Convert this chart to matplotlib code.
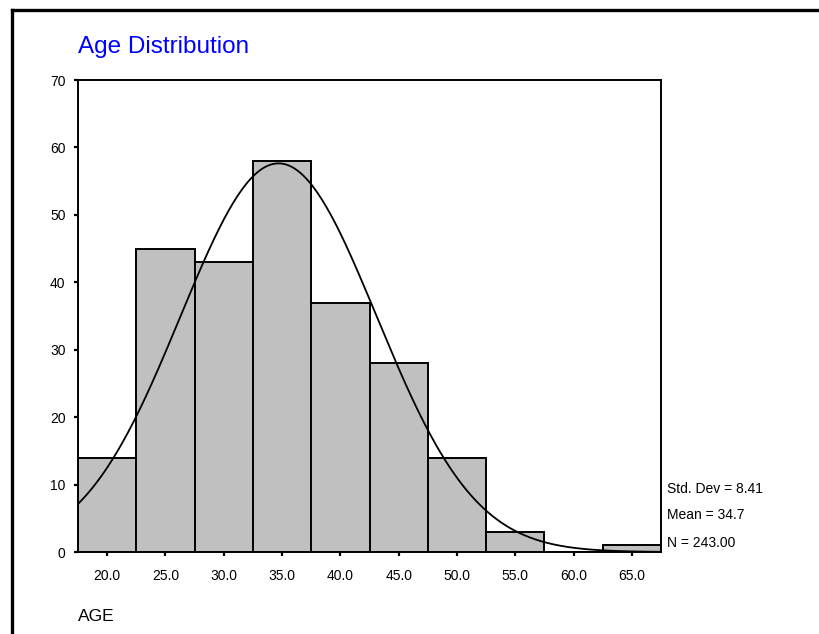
import numpy as np
import matplotlib
matplotlib.use("Agg")
import matplotlib.pyplot as plt
from matplotlib.lines import Line2D

# histogram data (bin centres and counts)
bin_centers = [20, 25, 30, 35, 40, 45, 50, 55, 60, 65]
counts = [14, 45, 43, 58, 37, 28, 14, 3, 0, 1]
bin_width = 5.0

# summary stats shown on the chart
std_dev = 8.41
mean = 34.7
n_total = 243.00

x_ticks = [20, 25, 30, 35, 40, 45, 50, 55, 60, 65]
y_ticks = [0, 10, 20, 30, 40, 50, 60, 70]

plt.rcParams['font.family'] = ['Liberation Sans', 'DejaVu Sans']

W, H = 819, 634
fig = plt.figure(figsize=(W / 100, H / 100), dpi=100)

def fx(px):
    return px / W

def fy(py):
    return 1 - py / H

ax = fig.add_axes([fx(78), fy(552), fx(661) - fx(78), fy(80) - fy(552)])

ax.bar(bin_centers, counts, width=bin_width, color='#c0c0c0',
       edgecolor='black', linewidth=1.4, zorder=2)

# fitted normal curve
xs = np.linspace(17.5, 67.5, 400)
ys = n_total * bin_width / (std_dev * np.sqrt(2 * np.pi)) * np.exp(-0.5 * ((xs - mean) / std_dev) ** 2)
ax.plot(xs, ys, color='black', linewidth=1.3, zorder=3)

ax.set_xlim(17.5, 67.5)
ax.set_ylim(0, 70)
ax.set_xticks(x_ticks)
ax.set_xticklabels([f"{v:.1f}" for v in x_ticks])
ax.set_yticks(y_ticks)
ax.tick_params(axis='both', direction='out', length=3, width=1.6,
               labelsize=10, colors='black')
ax.tick_params(axis='y', pad=6)
ax.tick_params(axis='x', pad=9)
for sp in ax.spines.values():
    sp.set_linewidth(1.4)

fig.text(fx(78), fy(53), 'Age Distribution', color='#0000ff', fontsize=17.5,
         ha='left', va='baseline')
fig.text(fx(78), fy(621), 'AGE', fontsize=12.5, ha='left', va='baseline')

fig.text(fx(667), fy(493), f'Std. Dev = {std_dev:.2f}', fontsize=10, va='baseline')
fig.text(fx(667), fy(519), f'Mean = {mean:.1f}', fontsize=10, va='baseline')
fig.text(fx(667), fy(547), f'N = {n_total:.2f}', fontsize=10, va='baseline')

# outer frame (left and top)
fig.add_artist(Line2D([fx(11.5), fx(11.5)], [0, fy(9.5)], color='black', linewidth=2.4,
                      transform=fig.transFigure, solid_capstyle='projecting'))
fig.add_artist(Line2D([fx(11.5), 1], [fy(9.5), fy(9.5)], color='black', linewidth=2.4,
                      transform=fig.transFigure, solid_capstyle='projecting'))

fig.savefig('out.png', dpi=100)
